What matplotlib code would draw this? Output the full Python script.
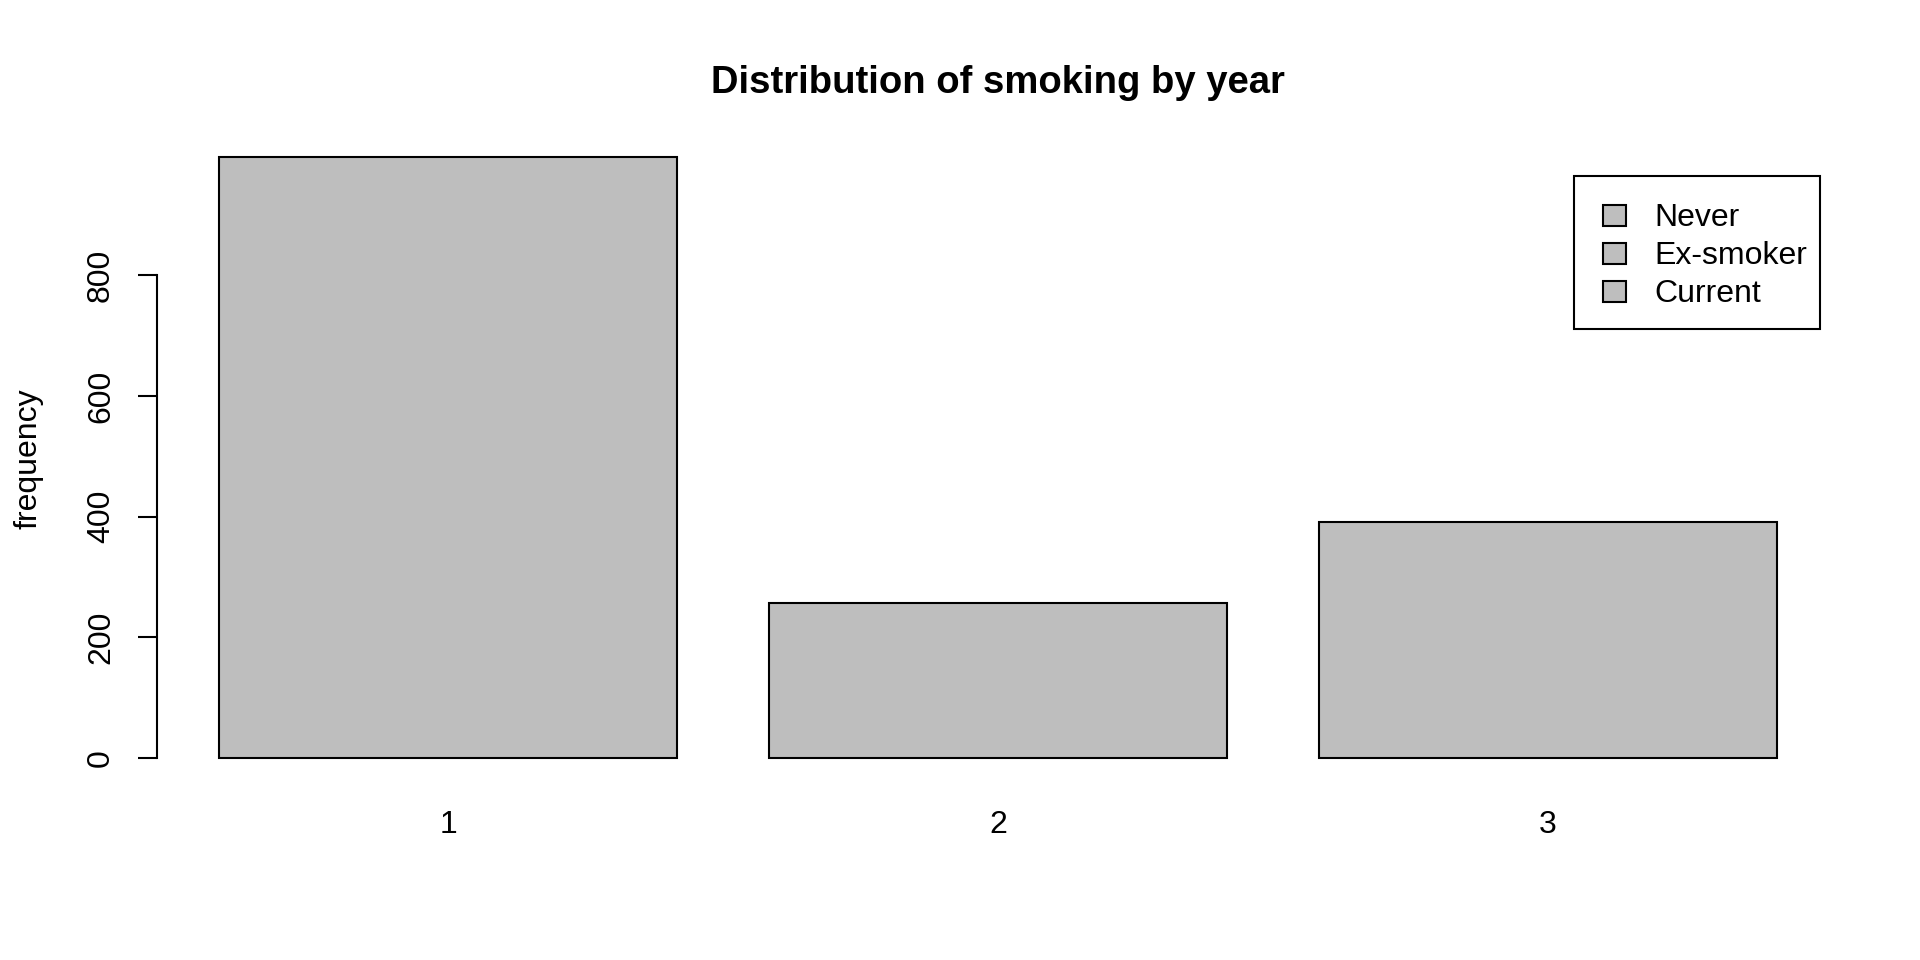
import numpy as np
import matplotlib
matplotlib.use("Agg")
import matplotlib.pyplot as plt
from matplotlib.patches import Patch, Rectangle

plt.rcParams['font.family'] = ['Liberation Sans', 'DejaVu Sans']

years = ["1", "2", "3"]
counts = [997, 257, 391]
legend_labels = ["Never", "Ex-smoker", "Current"]
yticks = [0, 200, 400, 600, 800]

grey = "#BEBEBE"
W, H = 1920, 960

fig = plt.figure(figsize=(19.2, 9.6), dpi=100)
ax = fig.add_axes([0.0817, 0.1854, 0.8761, 0.6765])

# R barplot layout: width 1, space 0.2
x = 0.2 + 1.2 * np.arange(len(counts)) + 0.5
ax.bar(x, counts, width=1.0, color=grey, edgecolor="black", linewidth=1.5)

xl = (0.2, 0.2 + 1.2 * len(counts) - 0.2)
pad = 0.04 * (xl[1] - xl[0])
ax.set_xlim(xl[0] - pad, xl[1] + pad)
ypad = 0.04 * max(counts)
ax.set_ylim(-ypad, max(counts) + ypad)

for s in ["top", "right", "bottom"]:
    ax.spines[s].set_visible(False)
ax.spines["left"].set_bounds(yticks[0], yticks[-1])
ax.spines["left"].set_linewidth(1.5)

ax.set_yticks(yticks)
ax.set_yticklabels([str(v) for v in yticks], rotation=90, va="center")
ax.tick_params(axis="y", length=13.5, width=1.5, labelsize=23, pad=16)
ax.set_xticks(x)
ax.set_xticklabels(years)
ax.tick_params(axis="x", length=0, labelsize=23, pad=20)

fig.text(0.5198, 1 - 83 / H, "Distribution of smoking by year",
         ha="center", va="center", fontsize=27.5, fontweight="bold")
fig.text(29 / W, 1 - 459 / H, "frequency", rotation=90,
         ha="center", va="center", fontsize=23)

# legend box drawn separately (R legend has uneven padding)
box = Rectangle((1573.5 / W, 1 - 329.4 / H), (1819.6 - 1573.5) / W,
                (329.4 - 176.3) / H, transform=fig.transFigure,
                facecolor="white", edgecolor="black", linewidth=1.5)
fig.add_artist(box)

handles = [Patch(facecolor=grey, edgecolor="black", linewidth=1.5) for _ in legend_labels]
leg = fig.legend(handles, legend_labels, loc="upper left",
                 bbox_to_anchor=(1603 / W, 1 - 203.5 / H),
                 fontsize=23, frameon=False, borderpad=0, labelspacing=0.25,
                 handlelength=0.72, handleheight=0.62, handletextpad=0.9,
                 borderaxespad=0)
leg.set_zorder(5)

fig.savefig("out.png", dpi=100)
